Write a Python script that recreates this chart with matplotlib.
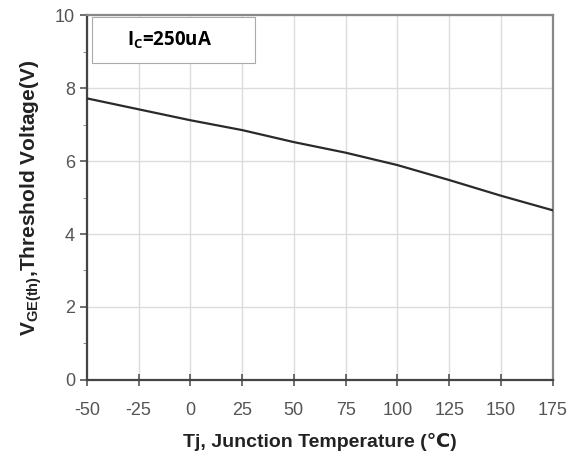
import matplotlib
matplotlib.use("Agg")
import matplotlib.pyplot as plt
from matplotlib.ticker import MultipleLocator
from matplotlib.patches import Rectangle

temp = [-50, -25, 0, 25, 50, 75, 100, 125, 150, 175]
vth = [7.72, 7.42, 7.12, 6.85, 6.52, 6.23, 5.89, 5.48, 5.05, 4.65]
xticks = [-50, -25, 0, 25, 50, 75, 100, 125, 150, 175]
yticks = [0, 2, 4, 6, 8, 10]

plt.rcParams['font.family'] = ['Liberation Sans', 'DejaVu Sans']
plt.rcParams['axes.unicode_minus'] = False
plt.rcParams['mathtext.fontset'] = 'custom'
plt.rcParams['mathtext.bf'] = 'Liberation Sans:bold'
plt.rcParams['mathtext.rm'] = 'Liberation Sans'

fig = plt.figure(figsize=(5.71, 4.61), dpi=100)
ax = fig.add_axes([0.152, 0.176, 0.816, 0.791])

ax.plot(temp, vth, color="#2a2a2a", lw=1.6, zorder=3)

ax.set_xlim(-50, 175)
ax.set_ylim(0, 10)
ax.set_xticks(xticks)
ax.set_yticks(yticks)
ax.yaxis.set_minor_locator(MultipleLocator(1))
ax.grid(True, which="major", color="#dcdcdc", lw=1)
ax.tick_params(axis="both", which="major", labelsize=13, labelcolor="#555555",
               color="#555555", length=5, width=1.2)
ax.tick_params(axis="y", which="minor", length=3, color="#777777")
ax.tick_params(axis="x", direction="inout", length=8, pad=12)

for s in ["left", "bottom"]:
    ax.spines[s].set_color("#444444")
    ax.spines[s].set_linewidth(1.6)
for s in ["top", "right"]:
    ax.spines[s].set_color("#888888")
    ax.spines[s].set_linewidth(1.6)

ax.set_xlabel("Tj, Junction Temperature (\u2103)", fontsize=14, fontweight="bold",
              color="#222222", labelpad=10)
ax.set_ylabel(r"$\mathbf{V_{GE(th)}}$,Threshold Voltage(V)", fontsize=15,
              fontweight="bold", color="#222222", labelpad=8)

ax.add_patch(Rectangle((0.011, 0.868), 0.349, 0.128, transform=ax.transAxes,
                       fc="white", ec="#aaaaaa", lw=0.8, zorder=4))
ax.text(0.178, 0.932, r"I$_\mathregular{C}$=250uA", transform=ax.transAxes,
        fontsize=13.5, fontweight="bold", family="Open Sans", ha="center", va="center",
        zorder=5)

fig.savefig("out.png", dpi=100)
